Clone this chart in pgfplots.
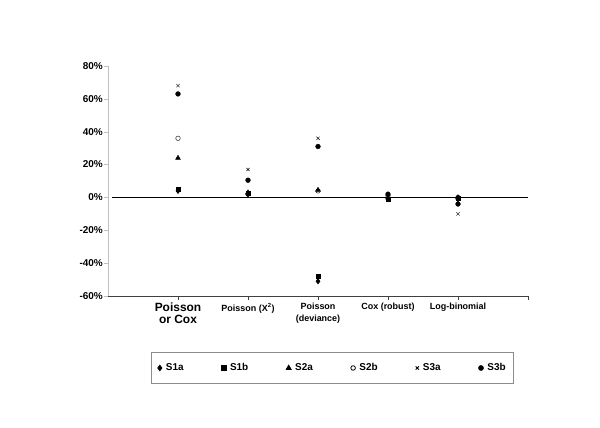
\documentclass[border=0pt]{standalone}
\usepackage{fontspec}
\setmainfont{Liberation Sans}
\usepackage{pgfplots}
\pgfplotsset{compat=1.18}

\begin{document}
\begin{tikzpicture}
\path[use as bounding box] (0,0) rectangle (600bp,428bp);
\begin{axis}[
    at={(108bp,132bp)}, anchor=south west,
    scale only axis, width=420bp, height=230bp,
    xmin=0, xmax=6, ymin=-60, ymax=80,
    axis lines*=left,
    x axis line style={black!75, line width=0.8pt},
    y axis line style={black!25, line width=0.6pt},
    tick align=outside, major tick length=4bp,
    ytick={-60,-40,...,80},
    yticklabel={\pgfmathprintnumber{\tick}\%},
    /pgf/number format/assume math mode=true,
    y tick style={black!25},
    x tick style={black!75},
    yticklabel style={font=\bfseries\fontsize{10}{12}\selectfont, inner sep=1bp},
    xtick={1,2,3,4,5},
    extra x ticks={6}, extra x tick labels={},
    xticklabels={{\fontsize{12}{15}\selectfont Poisson\\\fontsize{12}{15}\selectfont or Cox},
                 Poisson (X\textsuperscript{2}),
                 Poisson\\(deviance),
                 Cox (robust),
                 Log-binomial},
    xticklabel style={font=\bfseries\fontsize{9}{12}\selectfont, align=center, anchor=north, inner sep=1bp, yshift=-2bp},
    legend columns=6,
    legend style={at={(rel axis cs:0.535,-0.313)}, anchor=center,
        draw=black!45, line width=0.8pt, font=\bfseries\fontsize{10}{12}\selectfont,
        inner xsep=6bp, inner ysep=9bp,
        /tikz/every odd column/.append style={column sep=2bp},
        /tikz/every even column/.append style={column sep=36bp}},
    legend image code/.code={\draw[mark repeat=2, mark phase=2]
        plot coordinates {(0cm,0cm) (0.12cm,0cm) (0.24cm,0cm)};},
]
\draw[black, line width=0.8pt] (axis cs:0.06,0) -- (axis cs:6,0);

\addplot[only marks, mark=diamond*, mark size=2.8pt, black] coordinates {
    (1,4) (2,2) (3,-51) (4,-1) (5,-1)};
\addlegendentry{S1a}
\addplot[only marks, mark=square*, mark size=2.2pt, black] coordinates {
    (1,5) (2,2.5) (3,-48) (4,-1) (5,-0.5)};
\addlegendentry{S1b}
\addplot[only marks, mark=triangle*, mark size=2.8pt, black] coordinates {
    (1,24) (2,3) (3,4.5) (4,0) (5,0)};
\addlegendentry{S2a}
\addplot[only marks, mark=o, mark size=2.3pt, black, mark options={fill=white}] coordinates {
    (1,36) (2,2) (3,4) (4,1) (5,0)};
\addlegendentry{S2b}
\addplot[only marks, mark=x, mark size=2.3pt, black] coordinates {
    (1,68) (2,17) (3,36) (4,0) (5,-10)};
\addlegendentry{S3a}
\addplot[only marks, mark=*, mark size=2.4pt, black] coordinates {
    (1,63) (2,10.5) (3,31) (4,2) (5,-4)};
\addlegendentry{S3b}
\end{axis}
\end{tikzpicture}
\end{document}
